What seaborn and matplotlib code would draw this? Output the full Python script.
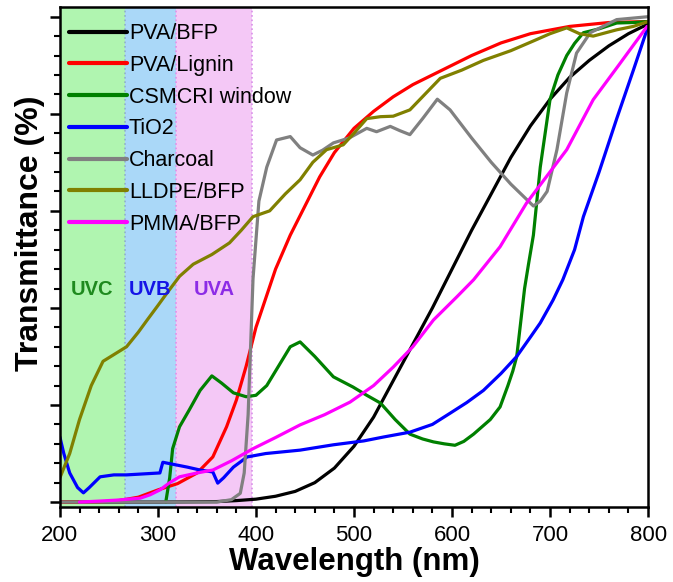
import pandas as pd
import matplotlib.pyplot as plt
import seaborn as sns
from matplotlib.ticker import MultipleLocator, NullFormatter

# values (wavelength nm, transmittance %)
pva_bfp_x = [200, 300, 360, 380, 400, 420, 440, 460, 480, 500, 520, 540, 560, 580, 600, 620, 640, 660, 680, 700, 720, 740, 760, 780, 800]
pva_bfp_y = [0, 0, 0.1, 0.3, 0.6, 1.2, 2.2, 4.0, 7.0, 11.5, 17.5, 25, 32.5, 40, 48, 56, 63.5, 71, 77.5, 83, 87.5, 91, 94, 96.5, 98.5]

pva_lignin_x = [200, 240, 260, 280, 300, 320, 340, 356, 370, 380, 390, 400, 410, 420, 435, 450, 465, 480, 500, 520, 540, 560, 580, 600, 620, 650, 680, 720, 760, 800]
pva_lignin_y = [0, 0, 0.3, 1, 2.5, 3.8, 6, 9.3, 15.5, 21, 28, 36, 42, 48, 55, 61, 67, 72, 77, 80.5, 83.5, 86, 88, 90, 92, 94.6, 96.5, 98, 98.8, 99]

csmcri_x = [308, 312, 315, 322, 332, 343, 355, 365, 377, 390, 400, 411, 423, 435, 445, 460, 479, 499, 513, 527, 542, 557, 570, 581, 592, 603, 612, 622, 639, 649, 657, 662, 666, 670, 674, 678, 683, 690, 700, 708, 717, 725, 734, 750, 768, 785, 800]
csmcri_y = [0, 5, 11, 15.5, 19, 23, 26, 24.5, 22.5, 21.7, 22, 24, 28, 32, 33, 30, 25.8, 23.7, 22, 20.4, 17, 14, 13, 12.4, 12, 11.7, 12.5, 14, 17, 19.6, 24, 27, 30, 37, 44, 49, 55, 69, 83, 88, 92, 94.5, 96.7, 97.5, 98.7, 98.8, 99]

tio2_x = [200, 204, 210, 218, 224, 230, 241, 255, 268, 285, 302, 305, 315, 330, 343, 356, 361, 367, 377, 391, 410, 445, 479, 510, 530, 557, 580, 598, 615, 632, 650, 666, 680, 690, 703, 713, 725, 734, 750, 768, 785, 800]
tio2_y = [13.4, 10, 6, 3, 1.9, 3, 5.2, 5.6, 5.6, 5.8, 6, 8.2, 7.8, 7.2, 6.6, 6.2, 3.9, 5, 7.2, 9.3, 10, 10.7, 11.8, 12.6, 13.4, 14.4, 16, 18.3, 20.5, 23, 26.5, 30, 34, 36.9, 41.6, 45.8, 52, 58.8, 68, 79, 89, 98]

charcoal_x = [200, 360, 375, 384, 388, 392, 397, 403, 411, 421, 435, 445, 458, 468, 479, 495, 513, 523, 537, 547, 557, 570, 585, 598, 620, 640, 660, 683, 690, 697, 707, 717, 727, 741, 768, 800]
charcoal_y = [0, 0, 0.5, 1.8, 6, 18, 46, 62, 69, 74.6, 75.3, 73, 71.5, 72.5, 74, 75, 77, 76.3, 77.4, 76.5, 75.7, 79, 83, 80.8, 75, 70, 65.5, 61, 62, 64, 72.6, 84.3, 92.5, 96.7, 99.4, 100]

lldpe_x = [200, 210, 220, 232, 244, 256, 268, 280, 289, 300, 309, 322, 336, 355, 373, 385, 397, 414, 430, 445, 458, 472, 489, 500, 513, 527, 540, 557, 588, 610, 632, 660, 683, 700, 717, 730, 744, 768, 785, 800]
lldpe_y = [5, 10, 17, 24, 29, 30.5, 32, 35, 37.5, 40.5, 43, 46.5, 49, 51, 53.4, 56, 58.8, 60, 63.5, 66.4, 70, 72.6, 73.6, 76, 79, 79.4, 79.5, 80.8, 87.3, 89, 91, 93, 95, 96.5, 97.7, 96.5, 96, 97.3, 98, 99]

pmma_x = [220, 240, 258, 282, 292, 302, 312, 322, 340, 356, 375, 397, 420, 445, 470, 496, 520, 540, 560, 581, 605, 622, 649, 676, 717, 744, 770, 799]
pmma_y = [0, 0.2, 0.4, 0.8, 1.5, 2.5, 4, 5.2, 6, 6.6, 8.5, 11, 13.3, 15.9, 18, 20.6, 24, 27.8, 32, 37.5, 42.3, 45.8, 52.6, 61.6, 72.6, 82.9, 90, 98]

series = {
    "PVA/BFP": (pva_bfp_x, pva_bfp_y),
    "PVA/Lignin": (pva_lignin_x, pva_lignin_y),
    "CSMCRI window": (csmcri_x, csmcri_y),
    "TiO2": (tio2_x, tio2_y),
    "Charcoal": (charcoal_x, charcoal_y),
    "LLDPE/BFP": (lldpe_x, lldpe_y),
    "PMMA/BFP": (pmma_x, pmma_y),
}
colors = {
    "PVA/BFP": "#000000",
    "PVA/Lignin": "#ff0000",
    "CSMCRI window": "#008000",
    "TiO2": "#0000ff",
    "Charcoal": "#808080",
    "LLDPE/BFP": "#808000",
    "PMMA/BFP": "#ff00ff",
}

# UV bands
bands = ["UVC", "UVB", "UVA"]
band_edges = [(200, 266), (266, 318), (318, 396)]
band_fill = ["#b0f5b0", "#aad8f8", "#f4c8f6"]
band_text = ["#1e8a1e", "#1414e6", "#8c2ce6"]
band_edge_color = ["#8fb0c8", "#e090e8", "#d890e8"]

frames = [pd.DataFrame({"Wavelength": x, "T": y, "Sample": name}) for name, (x, y) in series.items()]
df = pd.concat(frames, ignore_index=True)

sns.set_style("ticks")
plt.rcParams["font.family"] = ["Liberation Sans", "DejaVu Sans"]
plt.rcParams["text.color"] = "black"
plt.rcParams["axes.labelcolor"] = "black"
plt.rcParams["xtick.color"] = "black"
plt.rcParams["ytick.color"] = "black"
plt.rcParams["axes.edgecolor"] = "black"

fig, ax = plt.subplots(figsize=(6.73, 5.82), dpi=100)
fig.subplots_adjust(left=0.089, right=0.963, top=0.988, bottom=0.129)

for (lo, hi), fc, ec in zip(band_edges, band_fill, band_edge_color):
    ax.axvspan(lo, hi, color=fc, lw=0, zorder=0)
    ax.axvline(hi, color=ec, ls=":", lw=1.2, zorder=0.5)

for name, (lo, hi), tc in zip(bands, band_edges, band_text):
    ax.text((lo + hi) / 2, 43.7, name, color=tc, fontsize=14.5, fontweight="bold",
            ha="center", va="center")

sns.lineplot(data=df, x="Wavelength", y="T", hue="Sample", hue_order=list(series.keys()),
             palette=colors, estimator=None, sort=False, lw=2.3, ax=ax)

ax.set_xlim(200, 800)
ax.set_ylim(-1, 102)
ax.xaxis.set_major_locator(MultipleLocator(100))
ax.xaxis.set_minor_locator(MultipleLocator(20))
ax.yaxis.set_major_locator(MultipleLocator(20))
ax.yaxis.set_minor_locator(MultipleLocator(4))
ax.yaxis.set_major_formatter(NullFormatter())
ax.tick_params(which="major", direction="out", length=7, width=1.8, labelsize=16, pad=6)
ax.tick_params(which="minor", direction="out", length=4, width=1.5)
for sp in ax.spines.values():
    sp.set_linewidth(1.8)
    sp.set_visible(True)

ax.set_xlabel("Wavelength (nm)", fontsize=22.5, fontweight="bold", labelpad=1)
ax.set_ylabel("Transmittance (%)", fontsize=23, fontweight="bold")
ax.yaxis.set_label_coords(-0.026, 0.548)

handles, labels = ax.get_legend_handles_labels()
leg = ax.legend(handles, labels, loc="upper left", bbox_to_anchor=(0.0, 0.985), frameon=False,
                fontsize=15.5, handlelength=2.7, handletextpad=0.1, labelspacing=0.5,
                borderaxespad=0.2, borderpad=0.2)
for h in leg.get_lines():
    h.set_linewidth(3)

plt.savefig("out.png", dpi=100)
